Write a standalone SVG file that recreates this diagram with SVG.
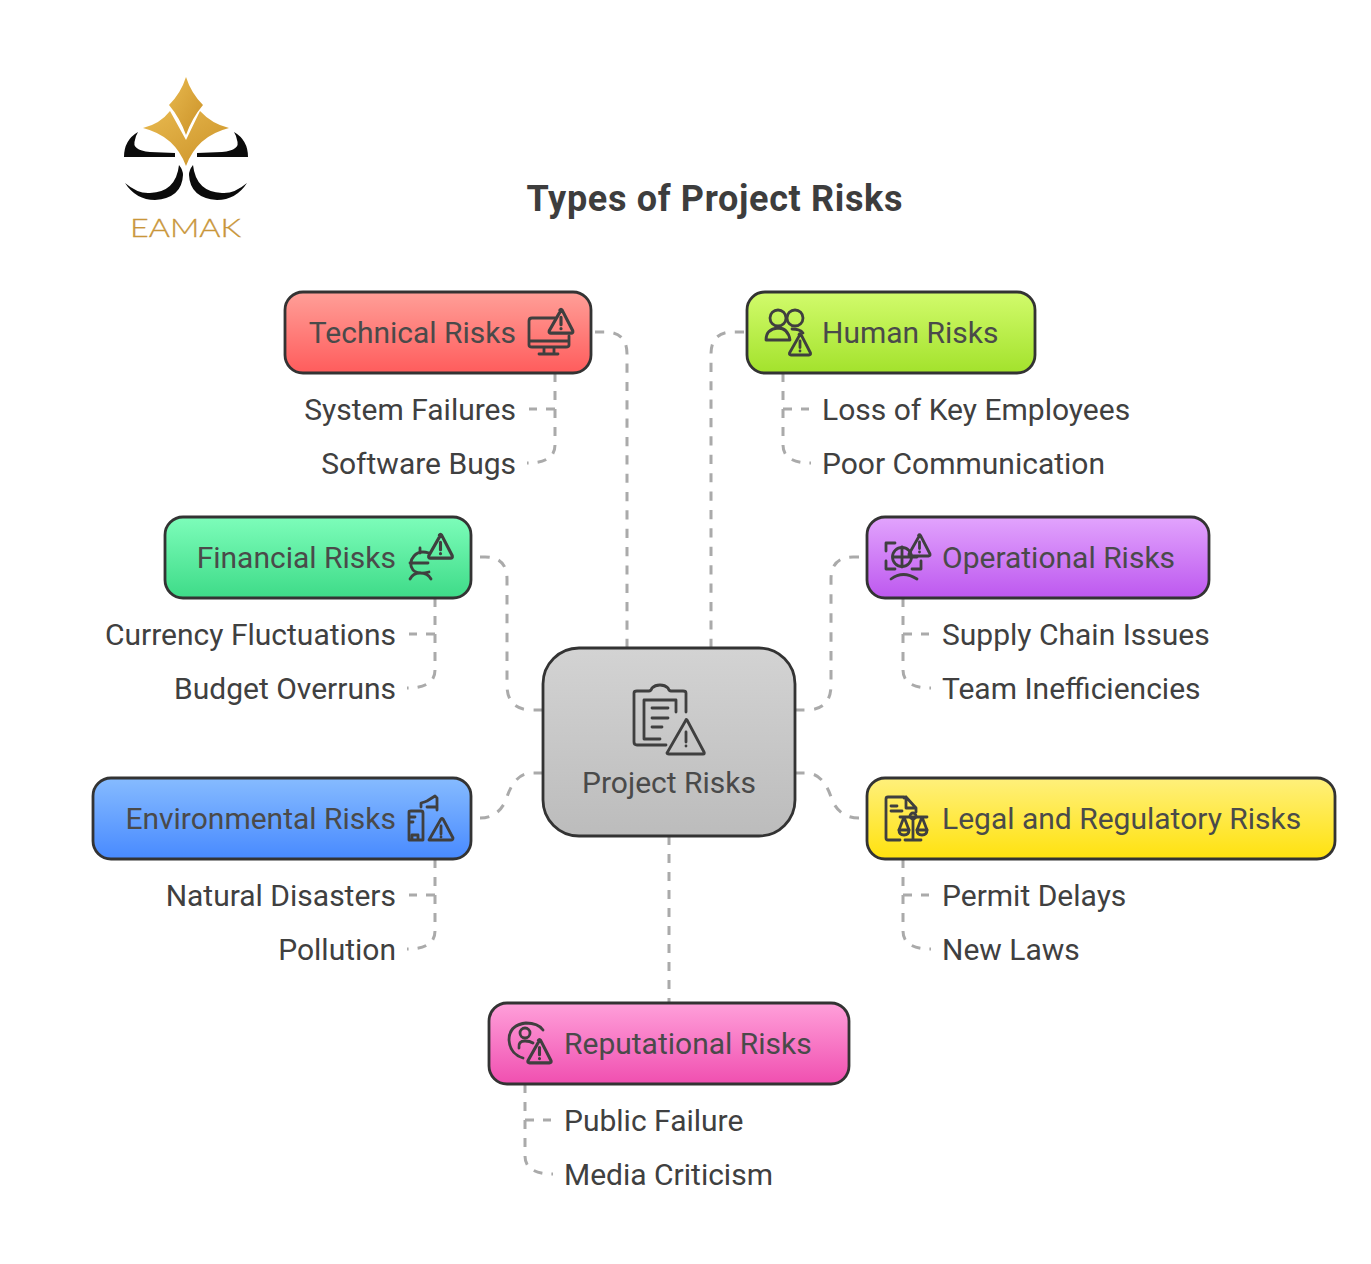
<svg xmlns="http://www.w3.org/2000/svg" width="1371" height="1264" viewBox="0 0 1371 1264">
<style>
text{font-family:Roboto,"Liberation Sans",sans-serif;font-size:30px;fill:#404040}
.h{fill:#4a4a4a}
.box{stroke:#333;stroke-width:2.8}
.ic{fill:none;stroke:#3f3f3f;stroke-width:2.8;stroke-linecap:round;stroke-linejoin:round}
.con{fill:none;stroke:#aaa;stroke-width:3;stroke-dasharray:9 9}
</style>
<defs>
<linearGradient id="gr" x1="0" y1="0" x2="0" y2="1"><stop offset="0" stop-color="#ff9f98"/><stop offset="1" stop-color="#ff5c5c"/></linearGradient>
<linearGradient id="gh" x1="0" y1="0" x2="0" y2="1"><stop offset="0" stop-color="#d2fb6c"/><stop offset="1" stop-color="#a3e22c"/></linearGradient>
<linearGradient id="gf" x1="0" y1="0" x2="0" y2="1"><stop offset="0" stop-color="#7dfdba"/><stop offset="1" stop-color="#3edb88"/></linearGradient>
<linearGradient id="go" x1="0" y1="0" x2="0" y2="1"><stop offset="0" stop-color="#e2a4fd"/><stop offset="1" stop-color="#bd58ef"/></linearGradient>
<linearGradient id="gb" x1="0" y1="0" x2="0" y2="1"><stop offset="0" stop-color="#86bbff"/><stop offset="1" stop-color="#488aff"/></linearGradient>
<linearGradient id="gy" x1="0" y1="0" x2="0" y2="1"><stop offset="0" stop-color="#fff07c"/><stop offset="1" stop-color="#ffe20e"/></linearGradient>
<linearGradient id="gp" x1="0" y1="0" x2="0" y2="1"><stop offset="0" stop-color="#ffa0da"/><stop offset="1" stop-color="#f04fb0"/></linearGradient>
<linearGradient id="gg" x1="0" y1="0" x2="0" y2="1"><stop offset="0" stop-color="#d3d3d3"/><stop offset="1" stop-color="#bcbcbc"/></linearGradient>
<linearGradient id="gold" x1="0" y1="0" x2="1" y2="1"><stop offset="0" stop-color="#e8b94f"/><stop offset="1" stop-color="#cb9228"/></linearGradient>
<g id="warn"><path class="ic" d="M0 -11.500L-10.500 7Q-11 9 -9 9L9 9Q11 9 10.500 7L1 -11.500Q0 -13 -1 -11.500Z"/><path class="ic" d="M0 -5V1.500M0 5V5.100"/></g>
<g id="bl"><path fill="#0b0b0b" d="M138 132Q124 140 124 157L175 157V153L150 152Q131 150 135 140Q136 135 138 132Z"/><path fill="#0b0b0b" d="M125 183Q136 200 155 200Q182 198 183 175Q183 170 179 165Q176 192 150 193Q138 194 125 183Z"/></g>
</defs>
<rect width="1371" height="1264" fill="#fff"/>

<g id="logo">
<path fill="url(#gold)" d="M186 77Q191 93 203 105Q192 118 186 135Q180 118 169 105Q181 93 186 77Z"/>
<path fill="url(#gold)" d="M170 111L186 140L200 111Q212 124 229 128Q197 136 186 166Q175 136 143 128Q160 124 170 111Z"/>
<use href="#bl"/>
<use href="#bl" transform="matrix(-1 0 0 1 372 0)"/>
<text x="130" y="237" textLength="111" lengthAdjust="spacingAndGlyphs" style="font-family:Lato,sans-serif;font-size:25px;font-weight:300;fill:#c9963a;stroke:#c9963a;stroke-width:.3">EAMAK</text>
</g>

<text id="title" x="526.500" y="211" textLength="376" style="font-size:36px;font-weight:700;fill:#3d3d3d">Types of Project Risks</text>

<g id="connectors">
<path class="con" pathLength="333" d="M627 648V354Q627 332 605 332H595"/>
<path class="con" pathLength="333" d="M711 648V354Q711 332 733 332H744"/>
<path class="con" pathLength="189" d="M543 710H532Q507 710 507 685V579Q507 557 485 557H480"/>
<path class="con" pathLength="189" d="M795 710H806Q831 710 831 685V579Q831 557 853 557H859"/>
<path class="con" pathLength="81" d="M543 773H532Q514 773 506 800Q498 818 480 818"/>
<path class="con" pathLength="81" d="M795 773H806Q824 773 832 800Q840 818 859 818"/>
<path class="con" d="M669 836V1003"/>
<path class="con" d="M555 373V445Q555 463 527 463"/>
<path class="con" d="M555 409H529"/>
<path class="con" d="M783 373V445Q783 463 811 463"/>
<path class="con" d="M783 409H809"/>
<path class="con" d="M435 598V670Q435 688 407 688"/>
<path class="con" d="M435 634H409"/>
<path class="con" d="M903 598V670Q903 688 931 688"/>
<path class="con" d="M903 634H929"/>
<path class="con" d="M435 859V931Q435 949 407 949"/>
<path class="con" d="M435 895H409"/>
<path class="con" d="M903 859V931Q903 949 931 949"/>
<path class="con" d="M903 895H929"/>
<path class="con" d="M525 1084V1156Q525 1174 553 1174"/>
<path class="con" d="M525 1120H551"/>
</g>

<g id="project">
<rect class="box" x="543" y="648" width="252" height="188" rx="36" fill="url(#gg)"/>
<path class="ic" d="M666 745H637Q634 745 634 742V693Q634 691 637 691H649Q651 691 652 688Q655 685 660 685Q665 685 668 688Q669 691 671 691H683Q686 691 686 693V712"/>
<path class="ic" d="M660 739H644V700H676V712M652 708H668M652 718H668M652 727H662"/>
<path class="ic" d="M686 720L667 753Q667 754 669 754H703Q705 754 704 752L687 720Q686 719 686 720Z"/>
<path class="ic" d="M686 732V742M686 746V746.100"/>
<text x="669" y="793" text-anchor="middle" class="h">Project Risks</text>
</g>

<g id="technical">
<rect class="box" x="285" y="292" width="306" height="81" rx="18" fill="url(#gr)"/>
<text x="516" y="343" text-anchor="end" class="h">Technical Risks</text>
<path class="ic" d="M555 318H532Q529 318 529 321V345Q529 347 532 347H566Q569 347 569 345V336M529 341H569M544 347V353M554 347V353M539 354H558"/>
<use href="#warn" transform="translate(561 323) scale(1.120)"/>
</g>
<g id="human">
<rect class="box" x="747" y="292" width="288" height="81" rx="18" fill="url(#gh)"/>
<text x="822" y="343" class="h">Human Risks</text>
<circle class="ic" cx="778" cy="318" r="8"/><circle class="ic" cx="795" cy="318" r="8"/>
<path class="ic" d="M766 340Q766 329 778 328Q788 328 790 340ZM792 329Q800 329 803 333"/>
<use href="#warn" transform="translate(800 346)"/>
</g>
<g id="financial">
<rect class="box" x="165" y="517" width="306" height="81" rx="18" fill="url(#gf)"/>
<text x="396" y="568" text-anchor="end" class="h">Financial Risks</text>
<path class="ic" d="M429 553Q419 550 414 556Q408 563 413 570Q418 575 429 572M410 563H428M420 548V553M410 579Q413 573 420 573Q428 573 431 579"/>
<use href="#warn" transform="translate(440.500 548) scale(1.120)"/>
</g>
<g id="operational">
<rect class="box" x="867" y="517" width="342" height="81" rx="18" fill="url(#go)"/>
<text x="942" y="568" class="h">Operational Risks</text>
<path class="ic" d="M895 543H886V551M886 561V569H895M912 569H921V561"/>
<circle class="ic" cx="902" cy="557" r="9.500"/><path class="ic" d="M902 547V567M893 557H917"/>
<path class="ic" d="M891 579Q903 570 917 579"/>
<use href="#warn" transform="translate(919.500 547)"/>
</g>
<g id="environmental">
<rect class="box" x="93" y="778" width="378" height="81" rx="18" fill="url(#gb)"/>
<text x="396" y="829" text-anchor="end" class="h">Environmental Risks</text>
<path class="ic" d="M409 840V812Q409 811 411 811H421Q423 811 423 813V840ZM409 817H415M409 822H413M412 840V835H418V840M421 807V803Q425 802 427 801L435 796L437 798V810M427 807H436"/>
<path class="ic" d="M429 840L441 819Q442 818 443 819L453 838Q453 840 451 840Z"/>
<path class="ic" d="M441 826V834M441 837V837.100"/>
</g>
<g id="legal">
<rect class="box" x="867" y="778" width="468" height="81" rx="18" fill="url(#gy)"/>
<text x="942" y="829" class="h">Legal and Regulatory Risks</text>
<path class="ic" d="M904 798V797H888Q886 797 886 799V838Q886 840 888 840H900M906 797L916 808V812M906 797V808H916M891 806H897M891 811H902"/>
<path class="ic" d="M900 817H927M913 817V840M905 840H921M904 817L899 830M904 817L909 830M922 817L917 830M922 817L927 830"/>
<path class="ic" d="M899 830Q899 835 904 835Q909 835 909 830ZM917 830Q917 835 922 835Q927 835 927 830Z"/>
<circle class="ic" cx="913" cy="816" r="3"/>
</g>
<g id="reputational">
<rect class="box" x="489" y="1003" width="360" height="81" rx="18" fill="url(#gp)"/>
<text x="564" y="1054" class="h">Reputational Risks</text>
<path class="ic" d="M543 1030Q538 1023 526 1023Q509 1025 509 1040Q510 1054 523 1058"/>
<circle class="ic" cx="525" cy="1033" r="5"/>
<path class="ic" d="M519 1048Q518 1041 525 1041Q530 1041 533 1043"/>
<use href="#warn" transform="translate(539.500 1053) scale(1.100)"/>
</g>

<g id="leaves">
<text x="516" y="419.500" text-anchor="end">System Failures</text>
<text x="516" y="473.500" text-anchor="end">Software Bugs</text>
<text x="822" y="419.500">Loss of Key Employees</text>
<text x="822" y="473.500">Poor Communication</text>
<text x="396" y="644.500" text-anchor="end">Currency Fluctuations</text>
<text x="396" y="698.500" text-anchor="end">Budget Overruns</text>
<text x="942" y="644.500">Supply Chain Issues</text>
<text x="942" y="698.500">Team Inefficiencies</text>
<text x="396" y="905.500" text-anchor="end">Natural Disasters</text>
<text x="396" y="959.500" text-anchor="end">Pollution</text>
<text x="942" y="905.500">Permit Delays</text>
<text x="942" y="959.500">New Laws</text>
<text x="564" y="1130.500">Public Failure</text>
<text x="564" y="1184.500">Media Criticism</text>
</g>
</svg>
